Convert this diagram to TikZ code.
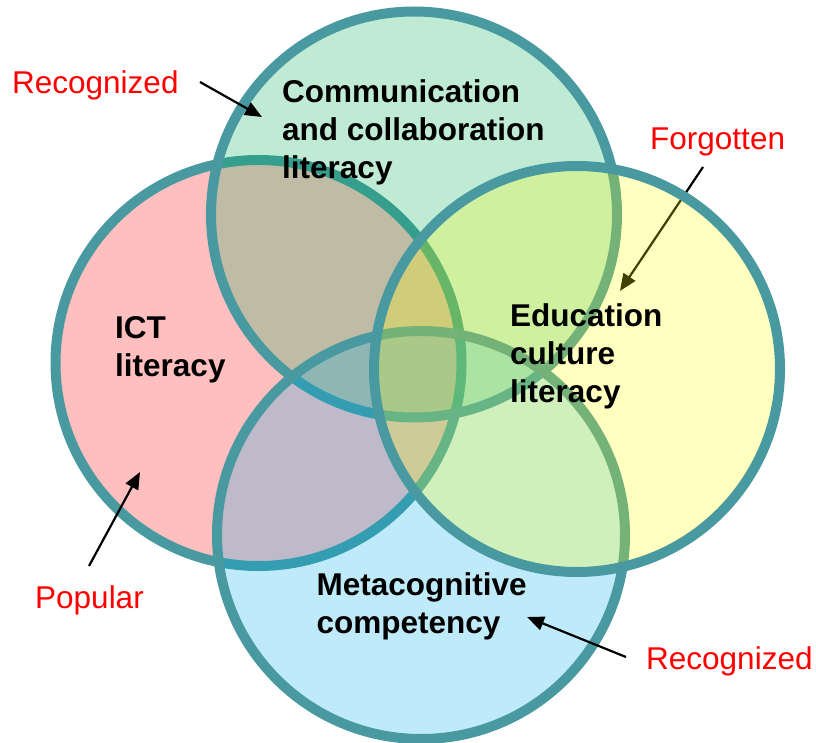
\documentclass[tikz,border=0pt]{standalone}
\usepackage{fontspec}
\setmainfont{Liberation Sans}
\usetikzlibrary{arrows.meta}
\definecolor{ring}{RGB}{72,153,160}
\definecolor{fpink}{RGB}{255,0,0}
\definecolor{fgreen}{RGB}{0,175,83}
\definecolor{fyellow}{RGB}{255,255,0}
\definecolor{fblue}{RGB}{0,171,235}
\definecolor{lblred}{RGB}{255,0,0}
\begin{document}
\begin{tikzpicture}[x=1pt,y=-1pt,
  circ/.style={circle, inner sep=0pt, outer sep=0pt, minimum size=406pt, line width=10pt, draw=ring, fill opacity=0.25},
  lbl/.style={font=\fontsize{31.5}{38}\selectfont\bfseries, align=left, anchor=base west, inner sep=0pt},
  note/.style={font=\fontsize{31.5}{38}\selectfont, text=lblred, anchor=base west, inner sep=0pt},
  arr/.style={line width=2.2pt, -{Triangle[length=17pt,width=14pt]}}]
\useasboundingbox (0,0) rectangle (816,743);
% circles
\node[circ, fill=fpink] (cict) at (258.5,363) {};
\node[circ, fill=fgreen] (ccom) at (414,214.5) {};
\node[circ, fill=fblue, minimum size=408pt] (cmeta) at (421,535) {};
% arrow end points
\coordinate (forgtail) at (703,167);
\coordinate (forgtip) at (620,291);
\coordinate (rectailA) at (200,82);
\coordinate (rectipA) at (262,117);
\coordinate (poptail) at (89,566);
\coordinate (poptip) at (140,472);
\coordinate (rectailB) at (626,657);
\coordinate (rectipB) at (527,617);
\draw[arr] (forgtail) -- (forgtip);
\node[circ, fill=fyellow] (cedu) at (577,369) {};
% texts (base anchor = baseline of the last line)
\node[lbl] (tcom) at (282,178.5) {Communication\\and collaboration\\literacy};
\node[lbl] (tict) at (115,376) {ICT\\literacy};
\node[lbl] (tedu) at (510,402) {Education\\culture\\literacy};
\node[lbl] (tmeta) at (316.5,633) {Metacognitive\\competency};
\node[note] (recA) at (12,94) {Recognized};
\node[note] (forg) at (650,150) {Forgotten};
\node[note] (pop) at (35,608) {Popular};
\node[note] (recB) at (646,669) {Recognized};
% arrows
\draw[arr] (rectailA) -- (rectipA);
\draw[arr] (poptail) -- (poptip);
\draw[arr] (rectailB) -- (rectipB);
\end{tikzpicture}
\end{document}
